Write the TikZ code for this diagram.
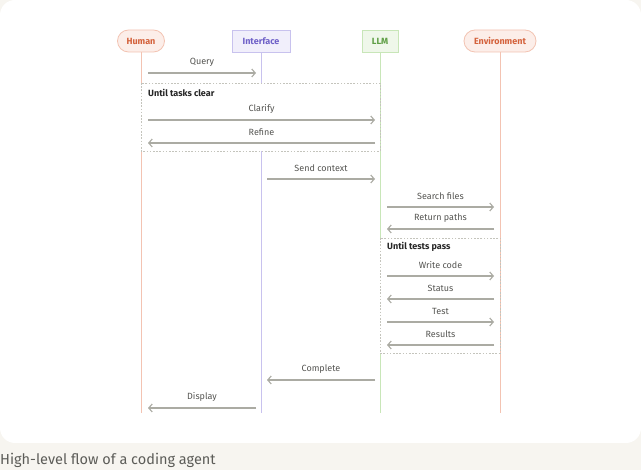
\documentclass[tikz,border=0pt]{standalone}
\usepackage{fontspec}
\setmainfont{Fira Sans}
\usetikzlibrary{arrows.meta}
\definecolor{pagebg}{HTML}{F7F5F0}
\definecolor{orgfill}{HTML}{FCEEE9}
\definecolor{orgline}{HTML}{F3C3B2}
\definecolor{orgtext}{HTML}{D4623C}
\definecolor{purfill}{HTML}{F1EFFB}
\definecolor{purline}{HTML}{C8C2EE}
\definecolor{purtext}{HTML}{6F61C8}
\definecolor{grnfill}{HTML}{EFF7EA}
\definecolor{grnline}{HTML}{C8E6B8}
\definecolor{grntext}{HTML}{5E9E44}
\definecolor{msgline}{HTML}{ABABA3}
\definecolor{msgtext}{HTML}{555552}
\definecolor{loopline}{HTML}{C4C4BC}
\definecolor{captext}{HTML}{5C5C58}
\tikzset{
  x=1pt, y=-1pt,
  actor/.style={minimum height=22pt, inner xsep=3pt, font=\fontsize{9}{10}\selectfont\bfseries, line width=0.8pt},
  pill/.style={actor, rounded corners=11pt, fill=orgfill, draw=orgline, text=orgtext},
  ifbox/.style={actor, fill=purfill, draw=purline, text=purtext},
  llmbox/.style={actor, fill=grnfill, draw=grnline, text=grntext},
  msg/.style={draw=msgline, line width=1.1pt, -{Straight Barb[length=3.5pt,width=8pt]}},
  msglabel/.style={font=\fontsize{9}{10}\selectfont, text=msgtext, inner sep=0pt},
  loopbox/.style={draw=loopline, line width=0.8pt, dash pattern=on 1.6pt off 1.6pt, fill=white},
  looplabel/.style={font=\fontsize{9}{10}\selectfont\bfseries, text=black!85, anchor=west, inner sep=0pt},
  lifeline/.style={line width=0.7pt}
}
\begin{document}
\begin{tikzpicture}
\fill[pagebg] (0,0) rectangle (641,470);
\useasboundingbox (0,0) rectangle (641,470);
\fill[white, rounded corners=15pt] (0,0) rectangle (641,443);
\node[anchor=west, inner sep=0pt, text=captext, font=\fontsize{14.5}{16}\selectfont] (cap) at (0,460) {High-level flow of a coding agent};

% actors
\node[pill, minimum width=47pt] (hum) at (141,41) {Human};
\node[ifbox, minimum width=58pt] (inf) at (261,41) {Interface};
\node[llmbox, minimum width=36pt] (llm) at (380,41) {LLM};
\node[pill, minimum width=72pt] (env) at (500,41) {Environment};

% lifeline ends
\coordinate (humE) at (141,413);
\coordinate (infE) at (261,413);
\coordinate (llmE) at (380,413);
\coordinate (envE) at (500,413);
\draw[lifeline, orgline] (hum.south) -- (humE);
\draw[lifeline, purline] (inf.south) -- (infE);
\draw[lifeline, grnline] (llm.south) -- (llmE);
\draw[lifeline, orgline] (env.south) -- (envE);

% loop boxes
\draw[loopbox] (141,83) rectangle (380,151);
\node[looplabel] (l1) at (148,93) {Until tasks clear};
\draw[loopbox] (380,238) rectangle (500,353);
\node[looplabel] (l2) at (387,247) {Until tests pass};

% message endpoints
\coordinate (q1) at (148,73);  \coordinate (q2) at (256,73);
\coordinate (c1) at (148,120); \coordinate (c2) at (375,120);
\coordinate (r1) at (375,143); \coordinate (r2) at (148,143);
\coordinate (s1) at (267,179); \coordinate (s2) at (375,179);
\coordinate (f1) at (387,207); \coordinate (f2) at (494,207);
\coordinate (p1) at (494,229); \coordinate (p2) at (387,229);
\coordinate (w1) at (387,276); \coordinate (w2) at (494,276);
\coordinate (st1) at (494,299); \coordinate (st2) at (387,299);
\coordinate (t1) at (387,322); \coordinate (t2) at (494,322);
\coordinate (rs1) at (494,345); \coordinate (rs2) at (387,345);
\coordinate (cp1) at (375,380); \coordinate (cp2) at (267,380);
\coordinate (d1) at (256,408); \coordinate (d2) at (148,408);

\draw[msg] (q1) -- node[msglabel, above=6.5pt] {Query} (q2);
\draw[msg] (c1) -- node[msglabel, above=6.5pt] {Clarify} (c2);
\draw[msg] (r1) -- node[msglabel, above=6.5pt] {Refine} (r2);
\draw[msg] (s1) -- node[msglabel, above=6.5pt] {Send context} (s2);
\draw[msg] (f1) -- node[msglabel, above=6.5pt] {Search files} (f2);
\draw[msg] (p1) -- node[msglabel, above=6.5pt] {Return paths} (p2);
\draw[msg] (w1) -- node[msglabel, above=6.5pt] {Write code} (w2);
\draw[msg] (st1) -- node[msglabel, above=6.5pt] {Status} (st2);
\draw[msg] (t1) -- node[msglabel, above=6.5pt] {Test} (t2);
\draw[msg] (rs1) -- node[msglabel, above=6.5pt] {Results} (rs2);
\draw[msg] (cp1) -- node[msglabel, above=6.5pt] {Complete} (cp2);
\draw[msg] (d1) -- node[msglabel, above=6.5pt] {Display} (d2);
\end{tikzpicture}
\end{document}
